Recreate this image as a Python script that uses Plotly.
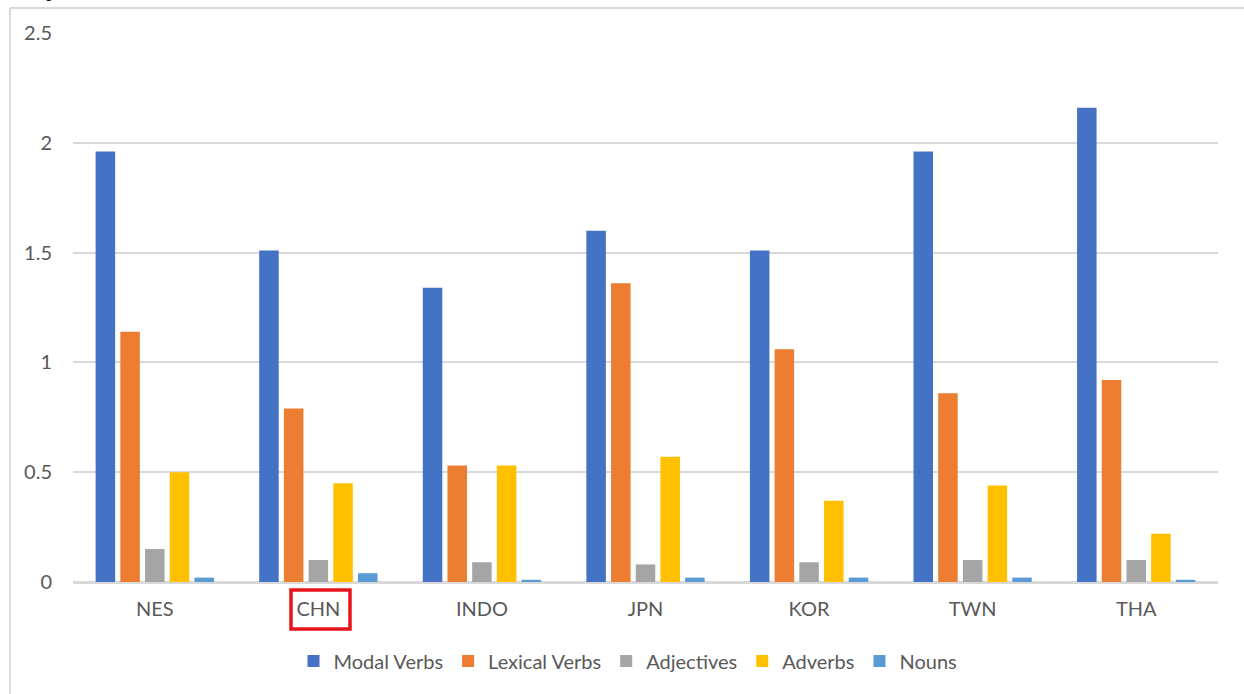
import plotly.graph_objects as go

# Groups (x axis) and the five word-class series
groups = ["NES", "CHN", "INDO", "JPN", "KOR", "TWN", "THA"]
modal_verbs = [1.96, 1.51, 1.34, 1.60, 1.51, 1.96, 2.16]
lexical_verbs = [1.14, 0.79, 0.53, 1.36, 1.06, 0.86, 0.92]
adjectives = [0.15, 0.10, 0.09, 0.08, 0.09, 0.10, 0.10]
adverbs = [0.50, 0.45, 0.53, 0.57, 0.37, 0.44, 0.22]
nouns = [0.02, 0.04, 0.01, 0.02, 0.02, 0.02, 0.01]

series = [
    ("Modal Verbs", modal_verbs, "#4472C4"),
    ("Lexical Verbs", lexical_verbs, "#ED7D31"),
    ("Adjectives", adjectives, "#A5A5A5"),
    ("Adverbs", adverbs, "#FFC000"),
    ("Nouns", nouns, "#5B9BD5"),
]

W, H = 1244, 694
ML, MR, MT, MB = 73, 26, 33, 112
PW, PH = W - ML - MR, H - MT - MB

def px_x(p):
    return (p - ML) / PW

def px_y(p):
    return (H - MB - p) / PH

TEXT = "#595959"
GRID = "#D9D9D9"
FONT = "Lato, Open Sans, sans-serif"
FS = 20

fig = go.Figure()
for name, vals, color in series:
    fig.add_trace(go.Bar(name=name, x=groups, y=vals, marker=dict(color=color, line=dict(width=0))))

fig.update_layout(
    width=W, height=H,
    margin=dict(l=ML, r=MR, t=MT, b=MB, autoexpand=False),
    paper_bgcolor="white", plot_bgcolor="white",
    barmode="group", bargap=0.245, bargroupgap=0.21,
    font=dict(family=FONT, size=FS, color=TEXT),
    showlegend=True,
    legend=dict(
        orientation="h", x=px_x(628), xanchor="center",
        y=px_y(661), yanchor="middle",
        font=dict(family=FONT, size=FS, color=TEXT),
        itemwidth=30, tracegroupgap=0,
    ),
    xaxis=dict(
        showgrid=False, showline=True, linecolor=GRID, linewidth=1.5,
        ticks="", ticklabelstandoff=8,
        tickfont=dict(family=FONT, size=FS, color=TEXT),
    ),
    yaxis=dict(
        range=[0, 2.5], tickvals=[0, 0.5, 1, 1.5, 2, 2.5],
        ticktext=["0", "0.5", "1", "1.5", "2", "2.5"],
        showgrid=True, gridcolor=GRID, gridwidth=1.5,
        zeroline=True, zerolinecolor=GRID, zerolinewidth=1.5,
        showline=False, ticks="", ticklabelstandoff=20,
        tickfont=dict(family=FONT, size=FS, color=TEXT),
    ),
)

# Outer chart frame (continues past the right and bottom edges)
fig.add_shape(type="line", xref="paper", yref="paper",
              x0=px_x(10), x1=px_x(1260), y0=px_y(8), y1=px_y(8),
              line=dict(color=GRID, width=2))
fig.add_shape(type="line", xref="paper", yref="paper",
              x0=px_x(10), x1=px_x(10), y0=px_y(8), y1=px_y(710),
              line=dict(color=GRID, width=2))

# Red highlight box around the CHN label
fig.add_shape(type="rect", xref="paper", yref="paper",
              x0=px_x(291), x1=px_x(350), y0=px_y(590), y1=px_y(629),
              line=dict(color="#E8141C", width=3.5), fillcolor="rgba(0,0,0,0)")

# Tail of the preceding line of body text, cut by the top edge
fig.add_annotation(text="p", xref="paper", yref="paper",
                   x=px_x(51), y=px_y(3.5), xanchor="center", yanchor="bottom",
                   showarrow=False,
                   font=dict(family="Liberation Serif, serif", size=22, color="black"))

fig.write_html("out.html")
